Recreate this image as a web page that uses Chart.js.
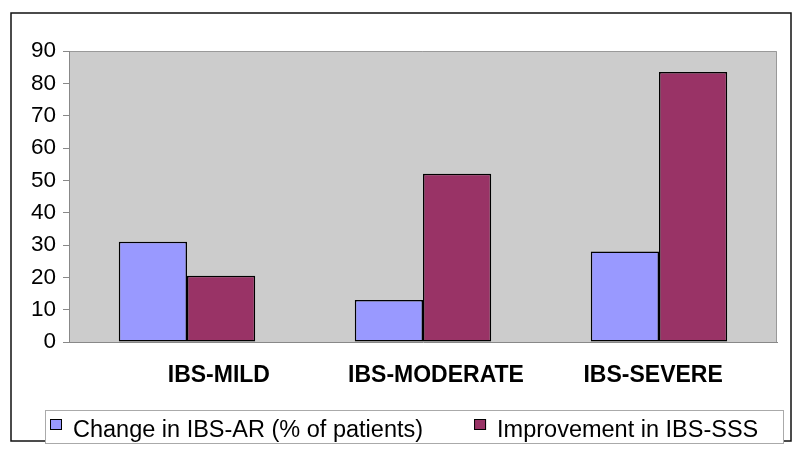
<!DOCTYPE html>
<html>
<head>
<meta charset="utf-8">
<script src="https://cdn.jsdelivr.net/npm/chart.js@4.4.0/dist/chart.umd.min.js"></script>
<style>
  html, body { margin: 0; padding: 0; background: #fff; }
  #wrap { width: 800px; height: 453px; position: relative; }
</style>
</head>
<body>
<div id="wrap"><canvas id="chart"></canvas></div>
<script>
const categories = ["IBS-MILD", "IBS-MODERATE", "IBS-SEVERE"];
const seriesNames = ["Change in IBS-AR (% of patients)", "Improvement in IBS-SSS"];
const changeInAR = [31, 13, 28];
const improvementSSS = [20.5, 52, 83.5];
const yMin = 0;
const yMax = 90;
const yStep = 10;

const FONT = "'Liberation Sans', Arial, sans-serif";
const BLUE = "#9999FF";
const MAROON = "#993366";

// gray plot area with thin frame, like the old spreadsheet charts
const plotAreaPlugin = {
  id: "plotArea",
  beforeDraw(c) {
    const { ctx, chartArea } = c;
    if (!chartArea) return;
    const { left, top, right, bottom } = chartArea;
    ctx.save();
    ctx.fillStyle = "#CCCCCC";
    ctx.fillRect(left, top, right - left, bottom - top);
    ctx.strokeStyle = "#999999";
    ctx.lineWidth = 1;
    ctx.beginPath();
    ctx.moveTo(left, top + 0.5);
    ctx.lineTo(right - 0.5, top + 0.5);
    ctx.lineTo(right - 0.5, bottom);
    ctx.stroke();
    ctx.restore();
  }
};

// category names: in the source they sit a bit tighter than the bar groups
const categoryLabelPlugin = {
  id: "categoryLabels",
  afterDraw(c) {
    const { ctx, chartArea, scales } = c;
    const x = scales.x;
    if (!chartArea || !x) return;
    const mid = x.getPixelForValue(1);
    ctx.save();
    ctx.font = "bold 23px " + FONT;
    ctx.fillStyle = "#000";
    ctx.textAlign = "center";
    ctx.textBaseline = "middle";
    c.data.labels.forEach((label, i) => {
      const px = mid + 13 + (x.getPixelForValue(i) - mid) * 0.92;
      ctx.fillText(label, px, chartArea.bottom + 34);
    });
    ctx.restore();
  }
};

// outer frame plus the boxed legend underneath
const frameLegendPlugin = {
  id: "frameLegend",
  afterDraw(c) {
    const { ctx } = c;
    ctx.save();
    ctx.strokeStyle = "#111";
    ctx.lineWidth = 1.5;
    ctx.strokeRect(11, 13, 780, 428);

    ctx.fillStyle = "#fff";
    ctx.fillRect(45, 410, 738, 33);
    ctx.strokeStyle = "#aaaaaa";
    ctx.lineWidth = 1;
    ctx.strokeRect(45.5, 410.5, 738, 33);

    ctx.font = "23.5px " + FONT;
    ctx.textBaseline = "alphabetic";
    let x = 50;
    c.data.datasets.forEach((ds) => {
      ctx.fillStyle = ds.backgroundColor;
      ctx.fillRect(x, 419, 12, 11);
      ctx.strokeStyle = "#000";
      ctx.lineWidth = 1;
      ctx.strokeRect(x + 0.5, 419.5, 11, 10);
      ctx.fillStyle = "#000";
      ctx.fillText(ds.label, x + 23, 437);
      x += 23 + ctx.measureText(ds.label).width + 51;
    });
    ctx.restore();
  }
};

new Chart(document.getElementById("chart"), {
  type: "bar",
  data: {
    labels: categories,
    datasets: [
      {
        label: seriesNames[0],
        data: changeInAR,
        backgroundColor: BLUE,
        borderColor: "#000",
        borderWidth: 1.5,
        borderSkipped: false
      },
      {
        label: seriesNames[1],
        data: improvementSSS,
        backgroundColor: MAROON,
        borderColor: "#000",
        borderWidth: 1.5,
        borderSkipped: false
      }
    ]
  },
  options: {
    responsive: true,
    maintainAspectRatio: false,
    animation: false,
    datasets: {
      bar: {
        categoryPercentage: 0.578,
        barPercentage: 1.0
      }
    },
    layout: {
      padding: { top: 51, right: 23, left: 0, bottom: 0 }
    },
    plugins: {
      legend: { display: false },
      tooltip: { enabled: false }
    },
    scales: {
      x: {
        afterFit(s) { s.height = 111; },
        grid: { display: false, drawTicks: false },
        border: { display: true, color: "#888888", width: 1 },
        ticks: { display: false }
      },
      y: {
        min: yMin,
        max: yMax,
        afterFit(s) { s.width = 69; },
        grid: {
          drawOnChartArea: false,
          drawTicks: true,
          tickLength: 6,
          color: "#888888"
        },
        border: { display: true, color: "#888888", width: 1 },
        ticks: {
          stepSize: yStep,
          color: "#000",
          padding: 7,
          font: { family: FONT, size: 22.5 }
        }
      }
    }
  },
  plugins: [plotAreaPlugin, categoryLabelPlugin, frameLegendPlugin]
});
</script>
</body>
</html>
